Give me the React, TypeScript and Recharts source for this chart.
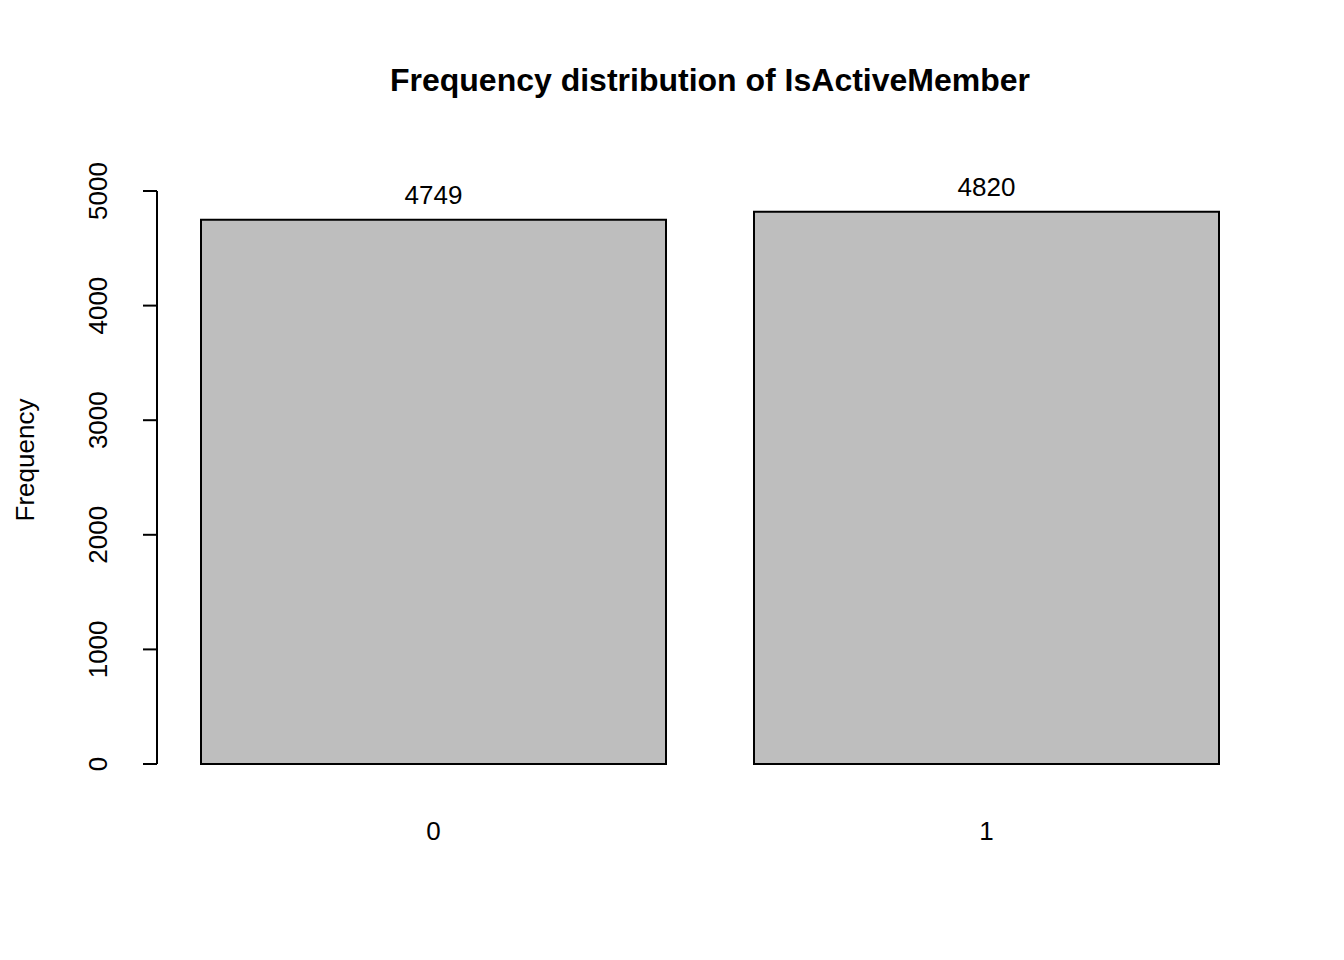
import React from 'react';
import { BarChart, Bar, XAxis, YAxis, LabelList } from 'recharts';

const categories = ['0', '1'];
const frequencies = [4749, 4820];
const yTicks = [0, 1000, 2000, 3000, 4000, 5000];

const data = categories.map((c, i) => ({ name: c, value: frequencies[i] }));

const font = 'Arial, "Liberation Sans", sans-serif';

const YTick = (props: any) => {
  const { x, y, payload } = props;
  return (
    <text
      x={x - 43}
      y={y}
      transform={`rotate(-90 ${x - 43} ${y})`}
      textAnchor="middle"
      dominantBaseline="central"
      fontSize={26}
      fontFamily={font}
      fill="#000"
    >
      {payload.value}
    </text>
  );
};

const XTick = (props: any) => {
  const { x, y, payload } = props;
  return (
    <text x={x} y={y + 59} textAnchor="middle" dominantBaseline="central" fontSize={26} fontFamily={font} fill="#000">
      {payload.value}
    </text>
  );
};

const App: React.FC = () => (
  <div style={{ position: 'absolute', left: 0, top: 0, width: 1344, height: 960, background: '#fff' }}>
    <svg width={1344} height={960} style={{ position: 'absolute', left: 0, top: 0, pointerEvents: 'none' }}>
      <text x={710} y={80} textAnchor="middle" dominantBaseline="central" fontSize={32} fontWeight="bold" fontFamily={font}>
        Frequency distribution of IsActiveMember
      </text>
      <text x={25} y={460} transform="rotate(-90 25 460)" textAnchor="middle" dominantBaseline="central" fontSize={26} fontFamily={font}>
        Frequency
      </text>
    </svg>
    <BarChart
      width={1344}
      height={960}
      data={data}
      margin={{ top: 191, left: 97, right: 81, bottom: 136 }}
      barSize={465}
    >
      <XAxis dataKey="name" axisLine={false} tickLine={false} height={60} tick={<XTick />} />
      <YAxis
        domain={[0, 5000]}
        ticks={yTicks}
        width={60}
        tickSize={14}
        axisLine={{ stroke: '#000', strokeWidth: 2 }}
        tickLine={{ stroke: '#000', strokeWidth: 2 }}
        tick={<YTick />}
      />
      <Bar dataKey="value" fill="#bebebe" stroke="#000" strokeWidth={2} isAnimationActive={false}>
        <LabelList dataKey="value" position="top" offset={16} fontSize={26} fontFamily={font} fill="#000" />
      </Bar>
    </BarChart>
  </div>
);

export default App;
